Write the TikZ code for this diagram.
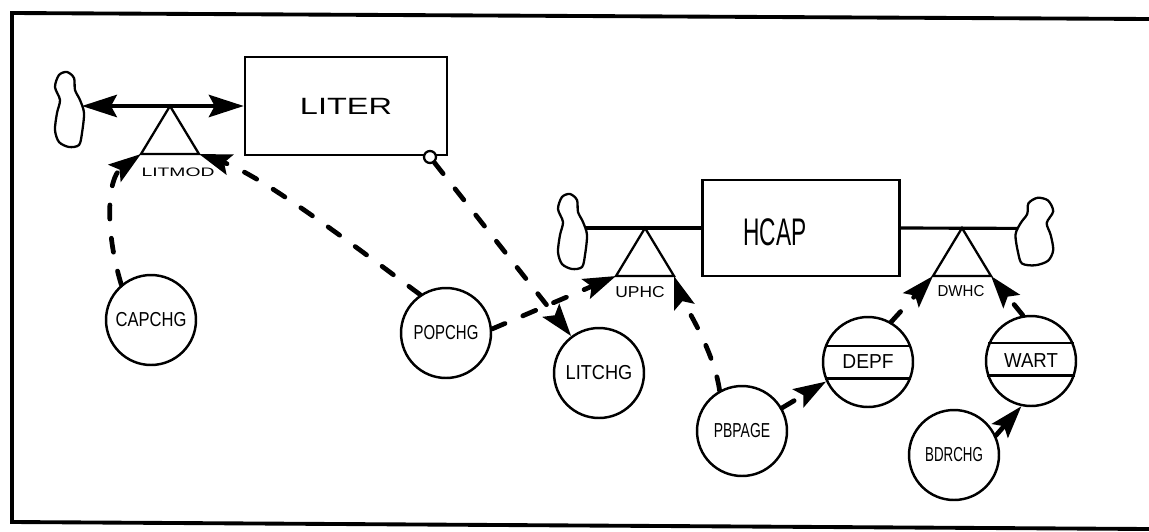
\documentclass[tikz,border=0pt]{standalone}
\usepackage{graphicx}
\usepackage{fontspec}
\setmainfont{Liberation Sans}
\usetikzlibrary{arrows.meta}

\newcommand{\squeeze}[2]{\scalebox{#1}[1]{#2}}

\tikzset{
  sink/.pic={
    \draw[line width=1.3pt] plot[smooth cycle] coordinates {(-2,-38) (5,-32) (6,-20) (11,-10) (15,3) (13,23) (10,35) (0,37) (-10,32) (-14,20) (-12,3) (-9,-10) (-14,-23) (-10,-35)};
    \coordinate (-e) at (13,-4);
  },
  valve/.pic={
    \draw[line width=1.3pt] (0,0) -- (-29,48) coordinate (-l) -- (29,48) coordinate (-r) -- cycle;
  }
}

\begin{document}
\begin{tikzpicture}[x=0.02cm, y=-0.02cm,
  box/.style={draw, line width=1.5pt, inner sep=0pt},
  aux/.style={draw, circle, line width=1.4pt, minimum size=1.8cm, inner sep=0pt, font=\fontsize{11.5}{12}\selectfont},
  flow/.style={line width=1.8pt},
  info/.style={-{Stealth[length=0.65cm,width=0.42cm,inset=0.12cm]}, line width=2.7pt, dash pattern=on 8pt off 11pt, line cap=round},
  tag/.style={inner sep=0pt, font=\fontsize{9}{10}\selectfont},
  tap/.style={draw, circle, fill=white, line width=1.3pt, minimum size=0.24cm, inner sep=0pt}]
\useasboundingbox (0,0) rectangle (1149,531);

% frame
\draw[line width=2.2pt] (1149,19) -- (12,13) -- (12,522) -- (1149,529);

% levels
\node[box, minimum width=4.04cm, minimum height=1.96cm] (liter) at (346,106) {\fontsize{13.4}{16}\selectfont\squeeze{1.38}{LITER}};
\node[box, minimum width=3.94cm, minimum height=1.92cm] (hcap) at (801,228) {};
\node[font=\fontsize{21.9}{24}\selectfont] (hcaptext) at (775,232) {\squeeze{0.59}{HCAP}};

% sources and sinks
\pic (src) at (69,110) {sink};
\pic (upsrc) at (572,232) {sink};
\pic[xscale=-1.3, yscale=0.9] (dnsnk) at (1035,232) {sink};

% rates
\pic (litmod) at (170,106) {valve};
\pic (uphc) at (645,228) {valve};
\pic (dwhc) at (962,228) {valve};
\node[tag, font=\fontsize{7}{8}\selectfont] (litmodlbl) at (178,172) {\squeeze{1.57}{LITMOD}};
\node[tag] (uphclbl) at (640,292) {\squeeze{1.1}{UPHC}};
\node[tag] (dwhclbl) at (961,291) {\squeeze{0.95}{DWHC}};

\draw[flow, {Stealth[length=0.7cm,width=0.45cm,inset=0.12cm]}-{Stealth[length=0.7cm,width=0.45cm,inset=0.12cm]}] (src-e) -- (liter.west);
\draw[flow] (upsrc-e) -- (hcap.west);
\draw[flow] (hcap.east) -- (dnsnk-e);

% auxiliaries
\node[aux] (capchg) at (151,320) {\squeeze{0.82}{CAPCHG}};
\node[aux] (popchg) at (446,333) {\squeeze{0.74}{POPCHG}};
\node[aux] (litchg) at (599,373) {\squeeze{0.9}{LITCHG}};
\node[aux] (pbpage) at (742,431) {\squeeze{0.69}{PBPAGE}};
\node[aux] (depf) at (868,362) {\squeeze{0.95}{DEPF}};
\node[aux] (wart) at (1031,361) {\squeeze{0.92}{WART}};
\node[aux] (bdrchg) at (954,455) {\squeeze{0.66}{BDRCHG}};

% table bands
\draw[line width=1.4pt] (depf.20) -- (depf.160);
\draw[line width=1.4pt] (depf.-21) -- (depf.201);
\draw[line width=1.4pt] (wart.23) -- (wart.157);
\draw[line width=1.4pt] (wart.-18) -- (wart.198);

% information links
\node[tap] (litertap) at (430,157) {};
\draw[info] (capchg.130) .. controls (104,228) and (108,178) .. (litmod-l);
\draw[info] (popchg.124) .. controls (340,235) and (260,175) .. (litmod-r);
\draw[info] (litertap) -- (litchg.127);
\draw[info] (popchg.5) -- (uphc-l);
\draw[info] (pbpage.119) .. controls (714,350) and (682,300) .. (uphc-r);
\draw[info] (pbpage.30) -- (depf.205);
\draw[info] (depf.60) -- (dwhc-l);
\draw[info] (wart.100) -- (dwhc-r);
\draw[info] (bdrchg.25) -- (wart.258);
\end{tikzpicture}
\end{document}
